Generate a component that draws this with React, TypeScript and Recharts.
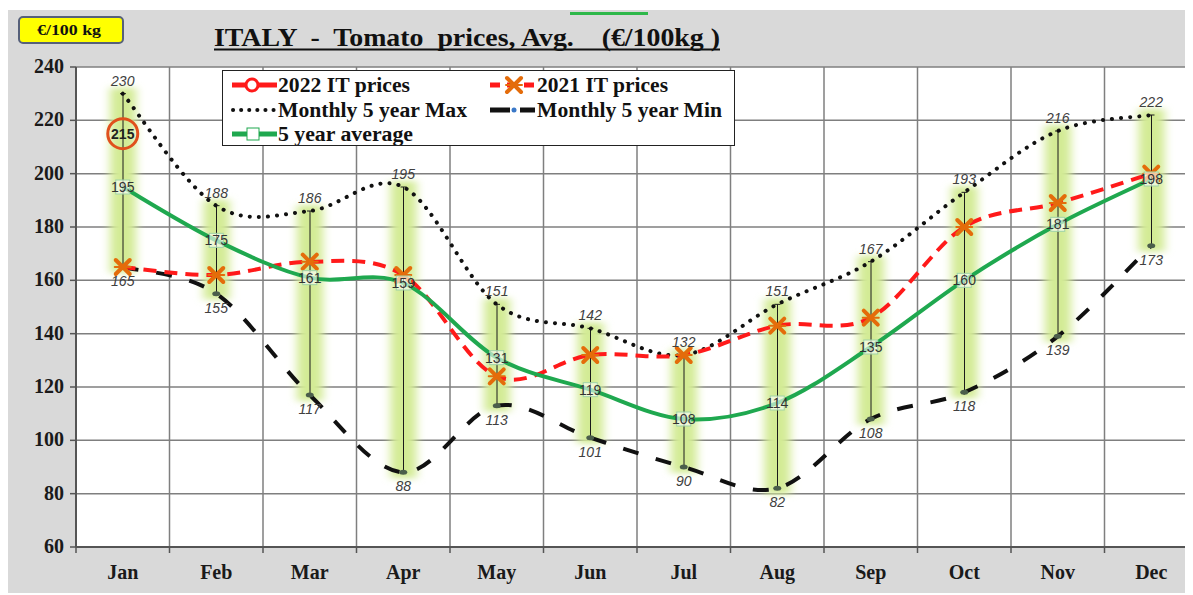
import React from "react";
import {
  ComposedChart,
  Bar,
  Line,
  XAxis,
  YAxis,
  CartesianGrid,
  LabelList,
} from "recharts";

// values (€/100kg)
const months = ["Jan", "Feb", "Mar", "Apr", "May", "Jun", "Jul", "Aug", "Sep", "Oct", "Nov", "Dec"];
const max5 = [230, 188, 186, 195, 151, 142, 132, 151, 167, 193, 216, 222];
const min5 = [165, 155, 117, 88, 113, 101, 90, 82, 108, 118, 139, 173];
const avg5 = [195, 175, 161, 159, 131, 119, 108, 114, 135, 160, 181, 198];
const prices2021 = [165, 162, 167, 162, 124, 132, 132, 143, 146, 180, 189, 200];
const prices2022 = [215, null, null, null, null, null, null, null, null, null, null, null];
const yTicks = [60, 80, 100, 120, 140, 160, 180, 200, 220, 240];

const data = months.map((m, i) => ({
  month: m,
  range: [min5[i], max5[i]],
  max: max5[i],
  min: min5[i],
  avg: avg5[i],
  y2021: prices2021[i],
  y2022: prices2022[i],
}));

const SERIF = "'Liberation Serif', 'Times New Roman', serif";
const SANS = "'Liberation Sans', Arial, sans-serif";

// excel-like smoothed line (catmull-rom through the points)
const excelSmooth = (context: any) => {
  let pts: number[][] = [];
  return {
    areaStart() {},
    areaEnd() {},
    lineStart() {
      pts = [];
    },
    point(x: number, y: number) {
      pts.push([+x, +y]);
    },
    lineEnd() {
      const n = pts.length;
      if (!n) return;
      context.moveTo(pts[0][0], pts[0][1]);
      for (let i = 0; i < n - 1; i++) {
        const p0 = pts[Math.max(i - 1, 0)];
        const p1 = pts[i];
        const p2 = pts[i + 1];
        const p3 = pts[Math.min(i + 2, n - 1)];
        const k = 1 / 6;
        context.bezierCurveTo(
          p1[0] + (p2[0] - p0[0]) * k,
          p1[1] + (p2[1] - p0[1]) * k,
          p2[0] - (p3[0] - p1[0]) * k,
          p2[1] - (p3[1] - p1[1]) * k,
          p2[0],
          p2[1]
        );
      }
    },
  };
};

const RangeGlow = (props: any) => {
  const { x, y, width, height } = props;
  const cx = x + width / 2;
  return (
    <g>
      <rect x={cx - 13} y={y - 6} width={26} height={height + 12} fill="#d3eb95" filter="url(#glow)" />
      <line x1={cx} x2={cx} y1={y} y2={y + height} stroke="#1a1a1a" strokeWidth={1} />
      <line x1={cx - 3} x2={cx + 3} y1={y} y2={y} stroke="#1a1a1a" strokeWidth={1} />
    </g>
  );
};

const CrossDot = (props: any) => {
  const { cx, cy } = props;
  if (cy == null) return null;
  return (
    <g stroke="#e46c0a" strokeWidth={4} strokeLinecap="round">
      <line x1={cx - 7} y1={cy - 7} x2={cx + 7} y2={cy + 7} />
      <line x1={cx - 7} y1={cy + 7} x2={cx + 7} y2={cy - 7} />
      <line x1={cx - 8} y1={cy} x2={cx + 8} y2={cy} strokeWidth={2} />
    </g>
  );
};

const CircleDot = (props: any) => {
  const { cx, cy, value } = props;
  if (value == null || cy == null) return null;
  return (
    <g>
      <circle cx={cx} cy={cy} r={15} fill="none" stroke="#e0501c" strokeWidth={3} />
      <text x={cx} y={cy + 5} textAnchor="middle" fontFamily={SANS} fontSize={14} fontWeight="bold" fill="#222">
        {value}
      </text>
    </g>
  );
};

const SquareDot = (props: any) => {
  const { cx, cy } = props;
  return <rect x={cx - 7} y={cy - 7} width={14} height={14} fill="#fff" fillOpacity={0.6} stroke="#9fd3a8" strokeWidth={1} />;
};

const SmallDot = (props: any) => {
  const { cx, cy } = props;
  return <ellipse cx={cx} cy={cy} rx={4} ry={2.5} fill="#4b5e4b" />;
};

const MonthTick = (props: any) => {
  const { x, y, payload, index } = props;
  const half = 46.75;
  return (
    <g>
      <line x1={x + half} x2={x + half} y1={y - 10} y2={y - 4} stroke="#555" strokeWidth={1.5} />
      {index === 0 && <line x1={x - half} x2={x - half} y1={y - 10} y2={y - 4} stroke="#555" strokeWidth={1.5} />}
      <text x={x} y={y + 22} textAnchor="middle" fontFamily={SERIF} fontWeight="bold" fontSize={20} fill="#1a1a1a">
        {payload.value}
      </text>
    </g>
  );
};

const PriceTick = (props: any) => {
  const { x, y, payload } = props;
  return (
    <text x={x} y={y + 6} textAnchor="end" fontFamily={SERIF} fontWeight="bold" fontSize={20} fill="#1a1a1a">
      {payload.value}
    </text>
  );
};

const labelAbove = (props: any) => (
  <text x={props.x} y={props.y - 8} textAnchor="middle" fontFamily={SANS} fontStyle="italic" fontSize={14} fill="#404040">
    {props.value}
  </text>
);

const labelBelow = (props: any) => (
  <text x={props.x} y={props.y + 19} textAnchor="middle" fontFamily={SANS} fontStyle="italic" fontSize={14} fill="#404040">
    {props.value}
  </text>
);

const labelCenter = (props: any) => (
  <text x={props.x} y={props.y + 5} textAnchor="middle" fontFamily={SANS} fontSize={14} fill="#333">
    {props.value}
  </text>
);

const LegendBox = () => {
  const txt = {
    fontFamily: SERIF,
    fontWeight: "bold" as const,
    fontSize: 20,
    fill: "#111",
    lengthAdjust: "spacingAndGlyphs" as const,
  };
  return (
    <div
      style={{
        position: "absolute",
        left: 214,
        top: 60,
        width: 513,
        height: 76,
        background: "#fff",
        border: "1px solid #222",
        boxSizing: "border-box",
      }}
    >
      <svg width={511} height={74} style={{ display: "block" }}>
        {/* row 1 */}
        <line x1={9} x2={54} y1={14} y2={14} stroke="#ff1a1a" strokeWidth={5} />
        <circle cx={29} cy={14} r={6} fill="#fff" stroke="#ff1a1a" strokeWidth={3} />
        <text x={55} y={21} textLength={132} {...txt}>2022 IT prices</text>
        <line x1={267} x2={312} y1={14} y2={14} stroke="#ff1a1a" strokeWidth={5} strokeDasharray="10 7" />
        <CrossDot cx={291} cy={14} />
        <text x={314} y={21} textLength={131} {...txt}>2021 IT prices</text>
        {/* row 2 */}
        <line x1={10} x2={54} y1={39} y2={39} stroke="#111" strokeWidth={4} strokeDasharray="0.1 8" strokeLinecap="round" />
        <text x={55} y={46} textLength={189} {...txt}>Monthly 5 year Max</text>
        <line x1={267} x2={312} y1={39} y2={39} stroke="#111" strokeWidth={5} strokeDasharray="20 10" />
        <circle cx={291} cy={39} r={2.5} fill="#3a78c8" />
        <text x={314} y={46} textLength={185} {...txt}>Monthly 5 year Min</text>
        {/* row 3 */}
        <line x1={9} x2={54} y1={63} y2={63} stroke="#1fa84f" strokeWidth={5} />
        <rect x={24} y={57} width={12} height={12} fill="#fff" stroke="#1fa84f" strokeWidth={1} />
        <text x={55} y={70} textLength={135} {...txt}>5 year average</text>
      </svg>
    </div>
  );
};

export default function App() {
  return (
    <div
      style={{
        position: "relative",
        top: 2,
        width: 1185,
        height: 585,
        background: "#d9d9d9",
        overflow: "hidden",
      }}
    >
      <div
        style={{
          position: "absolute",
          left: 10,
          top: 6,
          width: 106,
          height: 28,
          background: "#ffff00",
          border: "2px solid #56607a",
          borderRadius: 5,
          boxSizing: "border-box",
        }}
      >
        <svg width={102} height={24} style={{ display: "block" }}>
          <text x={17} y={17} textLength={64} lengthAdjust="spacingAndGlyphs" fontFamily={SERIF} fontWeight="bold" fontSize={15} fill="#111">
            €/100 kg
          </text>
        </svg>
      </div>
      <div style={{ position: "absolute", left: 562, top: 2, width: 78, height: 3, background: "#2eb84a" }} />
      <svg width={560} height={50} style={{ position: "absolute", left: 200, top: 0 }}>
        <text
          x={6}
          y={36}
          textLength={506}
          lengthAdjust="spacingAndGlyphs"
          fontFamily={SERIF}
          fontWeight="bold"
          fontSize={25}
          fill="#111"
          style={{ whiteSpace: "pre" }}
        >
          {"ITALY  -  Tomato  prices, Avg.    (€/100kg )"}
        </text>
        <line x1={6} x2={512} y1={39.5} y2={39.5} stroke="#111" strokeWidth={2} />
      </svg>

      <div style={{ position: "absolute", left: 0, top: 0 }}>
        <ComposedChart width={1200} height={585} data={data} margin={{ top: 57, right: 10, bottom: 8, left: 8 }}>
          <defs>
            <filter id="glow" x="-100%" y="-10%" width="300%" height="120%">
              <feGaussianBlur stdDeviation="5 3" />
            </filter>
          </defs>
          <CartesianGrid
            fill="#ffffff"
            stroke="#7f7f7f"
            strokeWidth={1.5}
            verticalCoordinatesGenerator={({ offset }: any) =>
              months.map((_, i) => offset.left + ((i + 1) * offset.width) / months.length)
            }
          />
          <XAxis
            dataKey="month"
            height={40}
            tickLine={false}
            tickSize={0}
            tickMargin={10}
            axisLine={{ stroke: "#555", strokeWidth: 2 }}
            tick={<MonthTick />}
            interval={0}
          />
          <YAxis
            domain={[60, 240]}
            ticks={yTicks}
            width={60}
            allowDataOverflow
            tickSize={6}
            tickMargin={6}
            axisLine={{ stroke: "#555", strokeWidth: 2 }}
            tickLine={{ stroke: "#555", strokeWidth: 1.5 }}
            tick={<PriceTick />}
          />
          <Bar dataKey="range" barSize={30} shape={<RangeGlow />} isAnimationActive={false} />
          <Line
            dataKey="max"
            type={excelSmooth as any}
            stroke="#111"
            strokeWidth={4}
            strokeDasharray="0.1 9"
            strokeLinecap="round"
            dot={false}
            isAnimationActive={false}
          >
            <LabelList dataKey="max" content={labelAbove} />
          </Line>
          <Line
            dataKey="min"
            type={excelSmooth as any}
            stroke="#111"
            strokeWidth={4}
            strokeDasharray="16 18"
            dot={<SmallDot />}
            isAnimationActive={false}
          >
            <LabelList dataKey="min" content={labelBelow} />
          </Line>
          <Line
            dataKey="y2021"
            type={excelSmooth as any}
            stroke="#ff1a1a"
            strokeWidth={4}
            strokeDasharray="13 8"
            dot={<CrossDot />}
            isAnimationActive={false}
          />
          <Line
            dataKey="avg"
            type={excelSmooth as any}
            stroke="#1fa84f"
            strokeWidth={4}
            dot={<SquareDot />}
            isAnimationActive={false}
          >
            <LabelList dataKey="avg" content={labelCenter} />
          </Line>
          <Line
            dataKey="y2022"
            stroke="#ff1a1a"
            strokeWidth={4}
            dot={<CircleDot />}
            connectNulls={false}
            isAnimationActive={false}
          />
        </ComposedChart>
      </div>
      <LegendBox />
    </div>
  );
}
